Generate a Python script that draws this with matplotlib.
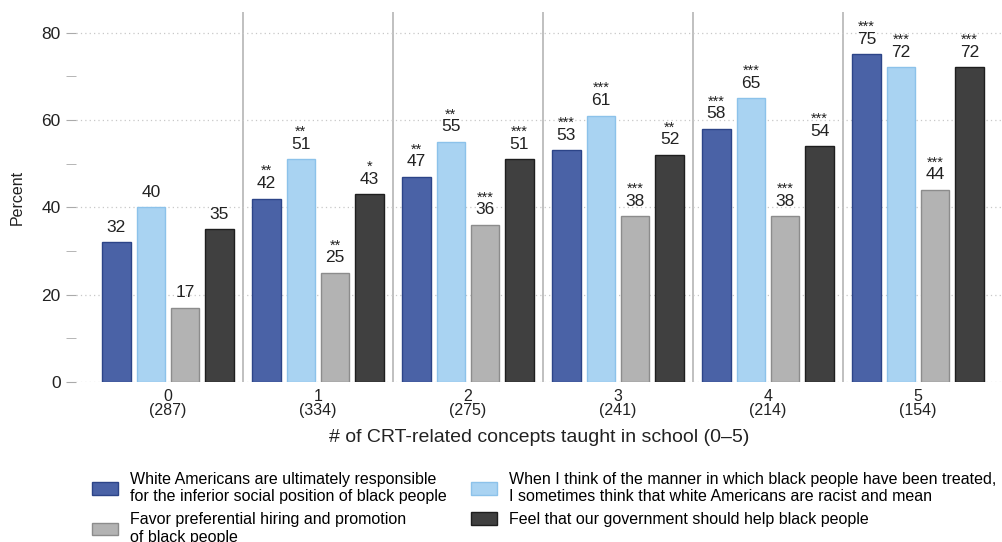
import matplotlib.pyplot as plt
import numpy as np
from matplotlib.patches import Patch

plt.rcParams["font.family"] = ["Liberation Sans", "DejaVu Sans"]

groups = ["0", "1", "2", "3", "4", "5"]
group_n = ["287", "334", "275", "241", "214", "154"]

series_labels = [
    "White Americans are ultimately responsible\nfor the inferior social position of black people",
    "When I think of the manner in which black people have been treated,\nI sometimes think that white Americans are racist and mean",
    "Favor preferential hiring and promotion\nof black people",
    "Feel that our government should help black people",
]

white_resp = [32, 42, 47, 53, 58, 75]
racist_mean = [40, 51, 55, 61, 65, 72]
pref_hiring = [17, 25, 36, 38, 38, 44]
gov_help = [35, 43, 51, 52, 54, 72]

white_resp_sig = ["", "**", "**", "***", "***", "***"]
racist_mean_sig = ["", "**", "**", "***", "***", "***"]
pref_hiring_sig = ["", "**", "***", "***", "***", "***"]
gov_help_sig = ["", "*", "***", "**", "***", "***"]

fill_colors = ["#4a62a6", "#a9d3f2", "#b3b3b3", "#404040"]
edge_colors = ["#2c4488", "#8cc2ea", "#8c8c8c", "#1e1e1e"]


def main():
    fig = plt.figure(figsize=(10.02, 5.42), dpi=100)
    W, H = 1002, 542
    # axes box in pixels: left 76, top 12, bottom 382, right cut at figure edge
    ax = fig.add_axes([76 / W, 1 - 382 / H, 1 - 76 / W, (382 - 12) / H])

    x = np.arange(len(groups))
    values = [white_resp, racist_mean, pref_hiring, gov_help]
    sigs = [white_resp_sig, racist_mean_sig, pref_hiring_sig, gov_help_sig]
    pitch = 0.229
    width = 0.19
    offsets = (np.arange(4) - 1.5) * pitch

    for k in range(4):
        ax.bar(x + offsets[k], values[k], width=width, color=fill_colors[k],
               edgecolor=edge_colors[k], linewidth=1.0, zorder=3)
        for i, v in enumerate(values[k]):
            # number centred ~15 px above bar top, stars ~29 px
            ax.annotate(str(v), (x[i] + offsets[k], v), xytext=(0, 10.8),
                        textcoords="offset points", ha="center", va="center",
                        fontsize=12.5, color="#222222")
            if sigs[k][i]:
                ax.annotate(sigs[k][i], (x[i] + offsets[k], v), xytext=(0, 16.8),
                            textcoords="offset points", ha="center", va="baseline",
                            fontsize=10.5, color="#222222")

    # separators between groups
    for i in range(len(groups) - 1):
        ax.axvline(i + 0.5, color="#b5b5b5", linewidth=1.2, zorder=1)

    ax.set_xlim(-0.613, (W - 168) / 150)
    ax.set_ylim(0, 84.7)
    ax.set_yticks([0, 20, 40, 60, 80])
    ax.set_yticks([10, 30, 50, 70], minor=True)
    ax.yaxis.grid(True, linestyle=(0, (1, 2.5)), color="#c8c8c8", linewidth=0.9, zorder=0)
    ax.tick_params(axis="y", which="both", length=7, color="#aaaaaa", pad=4,
                   labelsize=12.5, labelcolor="#222222")
    ax.tick_params(axis="x", length=0, pad=5, labelsize=11.5, labelcolor="#222222")
    ax.set_xticks(x)
    ax.set_xticklabels([f"{g}\n({n})" for g, n in zip(groups, group_n)],
                       linespacing=0.95)
    for s in ax.spines.values():
        s.set_visible(False)

    ax.set_ylabel("Percent", fontsize=11.5, color="#222222", labelpad=12)
    ax.set_xlabel("# of CRT-related concepts taught in school (0\u20135)",
                  fontsize=14, color="#222222", labelpad=8)

    # legend fills column-major, so order gives rows: blue/light, gray/dark
    order = [0, 2, 1, 3]
    handles = [Patch(facecolor=fill_colors[k], edgecolor=edge_colors[k]) for k in order]
    labels = [series_labels[k] for k in order]
    fig.legend(handles, labels, loc="upper left", ncol=2,
               bbox_to_anchor=(84 / W, 1 - 464 / H), frameon=False,
               fontsize=11.5, borderpad=0, handlelength=1.6, handleheight=0.85,
               handletextpad=0.75, columnspacing=1.55, labelspacing=0.5)

    fig.savefig("out.png", dpi=100)


if __name__ == "__main__":
    main()
